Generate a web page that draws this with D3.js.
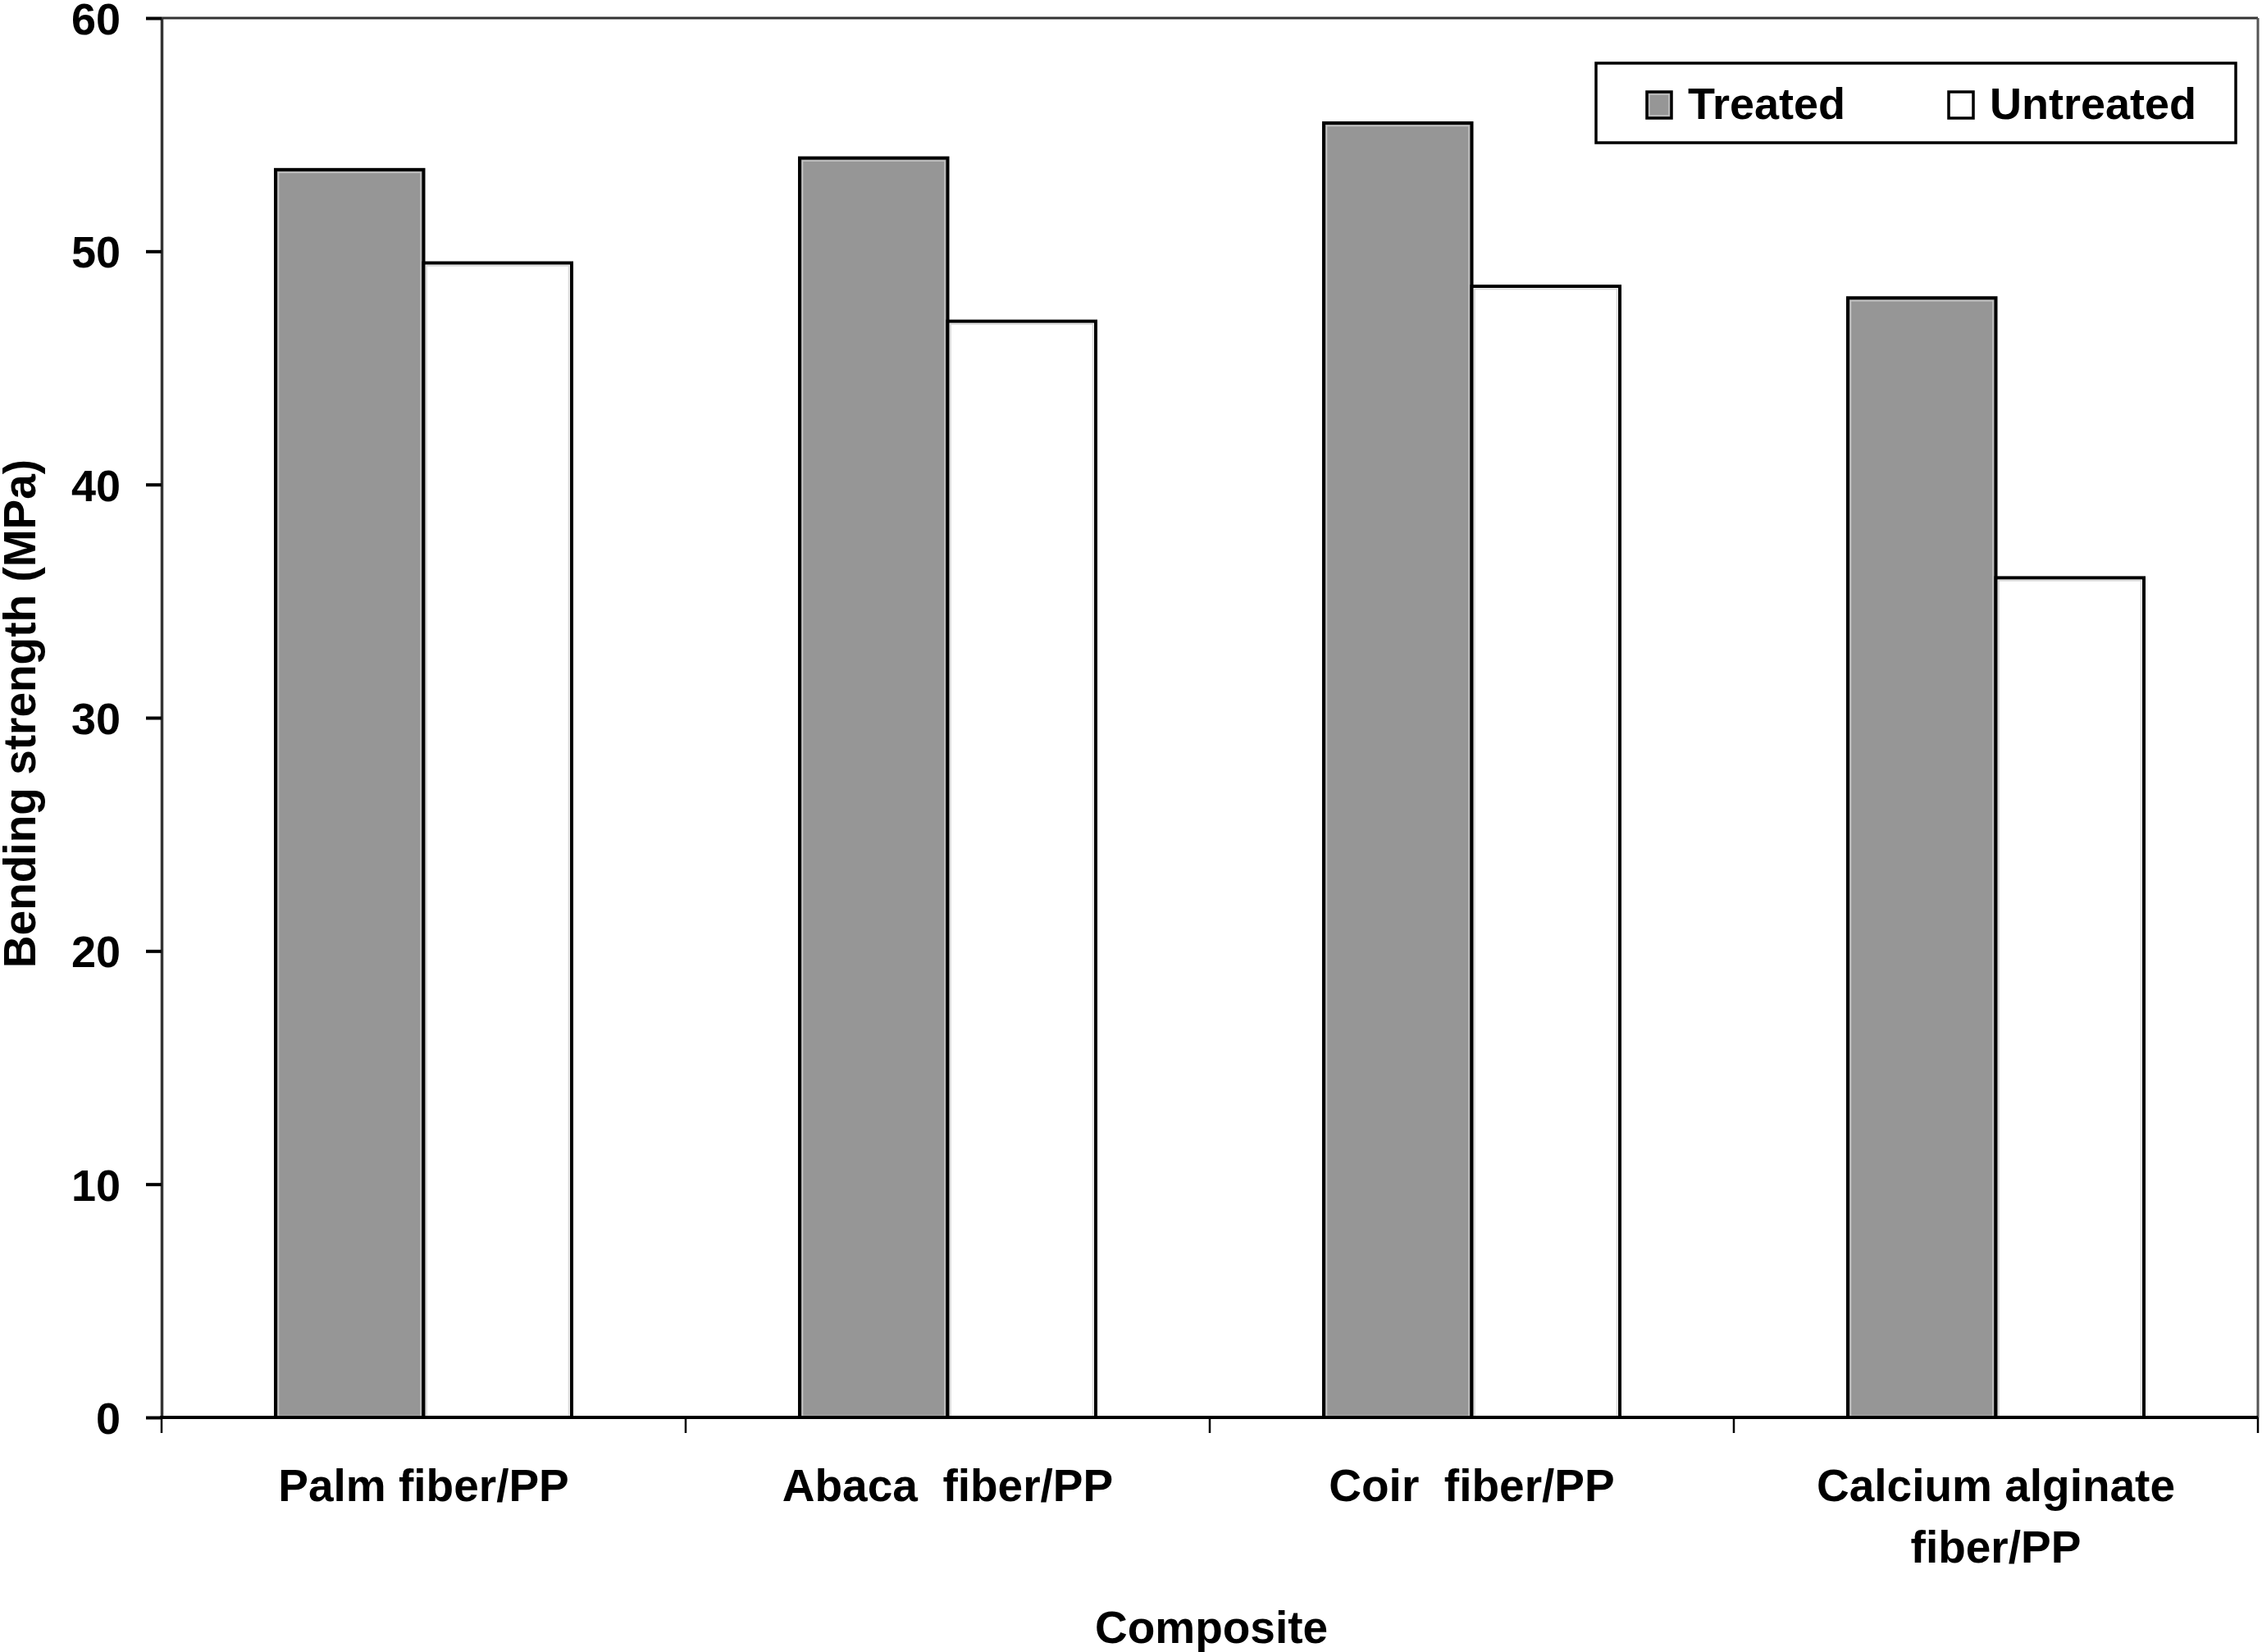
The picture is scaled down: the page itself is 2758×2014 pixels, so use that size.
<!DOCTYPE html>
<html>
<head>
<meta charset="utf-8">
<script src="https://cdn.jsdelivr.net/npm/d3@7"></script>
<style>
  html, body { margin: 0; padding: 0; background: #fff; }
  svg { display: block; }
  text { font-family: "Liberation Sans", Arial, sans-serif; font-weight: bold; fill: #000; }
</style>
</head>
<body>
<svg id="chart" width="2758" height="2014"></svg>
<script>
// ---- data ----
const categories = ["Palm fiber/PP", "Abaca  fiber/PP", "Coir  fiber/PP", "Calcium alginate\nfiber/PP"];
const seriesNames = ["Treated", "Untreated"];
const treated = [53.5, 54.0, 55.5, 48.0];
const untreated = [49.5, 47.0, 48.5, 36.0];
const yTicks = [0, 10, 20, 30, 40, 50, 60];
const yTitle = "Bending strength (MPa)";
const xTitle = "Composite";

// ---- layout ----
const W = 2758, H = 2014;
const plot = { left: 197, right: 2753, top: 22, bottom: 1728 };
const svg = d3.select("#chart");

const x0 = d3.scaleBand().domain(categories.map((d, i) => i)).range([plot.left, plot.right]).padding(0);
const bw = x0.bandwidth();
const x1 = d3.scaleBand().domain(seriesNames).range([0.2175 * bw, 0.7825 * bw]).padding(0);
const y = d3.scaleLinear().domain([0, 60]).range([plot.bottom, plot.top]);

const fills = { Treated: "#969696", Untreated: "#ffffff" };
const seriesValues = { Treated: treated, Untreated: untreated };

// frame (top and right)
svg.append("line").attr("x1", plot.left).attr("x2", plot.right).attr("y1", plot.top).attr("y2", plot.top)
  .attr("stroke", "#333").attr("stroke-width", 3);
svg.append("line").attr("x1", plot.right).attr("x2", plot.right).attr("y1", plot.top).attr("y2", plot.bottom)
  .attr("stroke", "#555").attr("stroke-width", 3);

// bars
const rows = [];
categories.forEach((c, i) => seriesNames.forEach(s => rows.push({ i, s, v: seriesValues[s][i] })));
const barG = svg.append("g");
barG.selectAll("rect.bar").data(rows).join("rect")
  .attr("class", "bar")
  .attr("x", d => x0(d.i) + x1(d.s))
  .attr("y", d => y(d.v))
  .attr("width", x1.bandwidth())
  .attr("height", d => y(0) - y(d.v))
  .attr("fill", d => fills[d.s])
  .attr("stroke", "#000").attr("stroke-width", 4);
barG.selectAll("rect.hl").data(rows).join("rect")
  .attr("class", "hl")
  .attr("x", d => x0(d.i) + x1(d.s) + 3.5)
  .attr("y", d => y(d.v) + 3.5)
  .attr("width", x1.bandwidth() - 7)
  .attr("height", d => y(0) - y(d.v) - 5)
  .attr("fill", "none")
  .attr("stroke", d => d.s === "Treated" ? "#c4c4c4" : "#d8d8d8").attr("stroke-width", 1.6);

// y axis
const yAxis = d3.axisLeft(y).tickValues(yTicks).tickSize(19).tickSizeOuter(0).tickPadding(31);
const yg = svg.append("g").attr("transform", `translate(${plot.left},0)`).call(yAxis);
yg.select(".domain").attr("stroke", "#333").attr("stroke-width", 3.5);
yg.selectAll(".tick line").attr("stroke", "#000").attr("stroke-width", 4);
yg.selectAll(".tick text").attr("font-size", 54).attr("dy", "0.36em")
  .style("font-family", '"Liberation Sans", Arial, sans-serif').style("font-weight", "bold").attr("fill", "#000");

// x axis line and boundary ticks
svg.append("line").attr("x1", plot.left - 2).attr("x2", plot.right).attr("y1", plot.bottom).attr("y2", plot.bottom)
  .attr("stroke", "#000").attr("stroke-width", 4);
const bounds = categories.map((d, i) => x0(i)).concat([x0(categories.length - 1) + bw]);
svg.selectAll("line.xt").data(bounds).join("line").attr("class", "xt")
  .attr("x1", d => d).attr("x2", d => d).attr("y1", plot.bottom).attr("y2", plot.bottom + 19)
  .attr("stroke", "#000").attr("stroke-width", 2.5);

// x labels
const xl = svg.append("g");
categories.forEach((c, i) => {
  const lines = c.split("\n");
  const t = xl.append("text").attr("text-anchor", "middle").attr("font-size", 55)
    .attr("x", x0(i) + bw / 2).attr("y", 1830).style("white-space", "pre");
  lines.forEach((ln, k) => {
    t.append("tspan").attr("x", x0(i) + bw / 2).attr("y", 1830 + k * 75).text(ln);
  });
});

// axis titles
svg.append("text").attr("text-anchor", "middle").attr("font-size", 55)
  .attr("x", (plot.left + plot.right) / 2 + 2).attr("y", 2003).text(xTitle);
svg.append("text").attr("text-anchor", "middle").attr("font-size", 55)
  .attr("transform", `translate(43,${(plot.top + plot.bottom) / 2 - 5}) rotate(-90)`).text(yTitle);

// legend
const lg = svg.append("g");
lg.append("rect").attr("x", 1946).attr("y", 77).attr("width", 780).attr("height", 97)
  .attr("fill", "#fff").attr("stroke", "#000").attr("stroke-width", 3.5);
const legX = [2008, 2376];
seriesNames.forEach((s, k) => {
  lg.append("rect").attr("x", legX[k]).attr("y", 112).attr("width", 30).attr("height", 32)
    .attr("fill", fills[s]).attr("stroke", "#000").attr("stroke-width", 3.5);
  if (s === "Treated") {
    lg.append("rect").attr("x", legX[k] + 3).attr("y", 115).attr("width", 24).attr("height", 26)
      .attr("fill", "none").attr("stroke", "#c4c4c4").attr("stroke-width", 1.5);
  }
  lg.append("text").attr("x", legX[k] + 50).attr("y", 145).attr("font-size", 54).text(s);
});
</script>
</body>
</html>
